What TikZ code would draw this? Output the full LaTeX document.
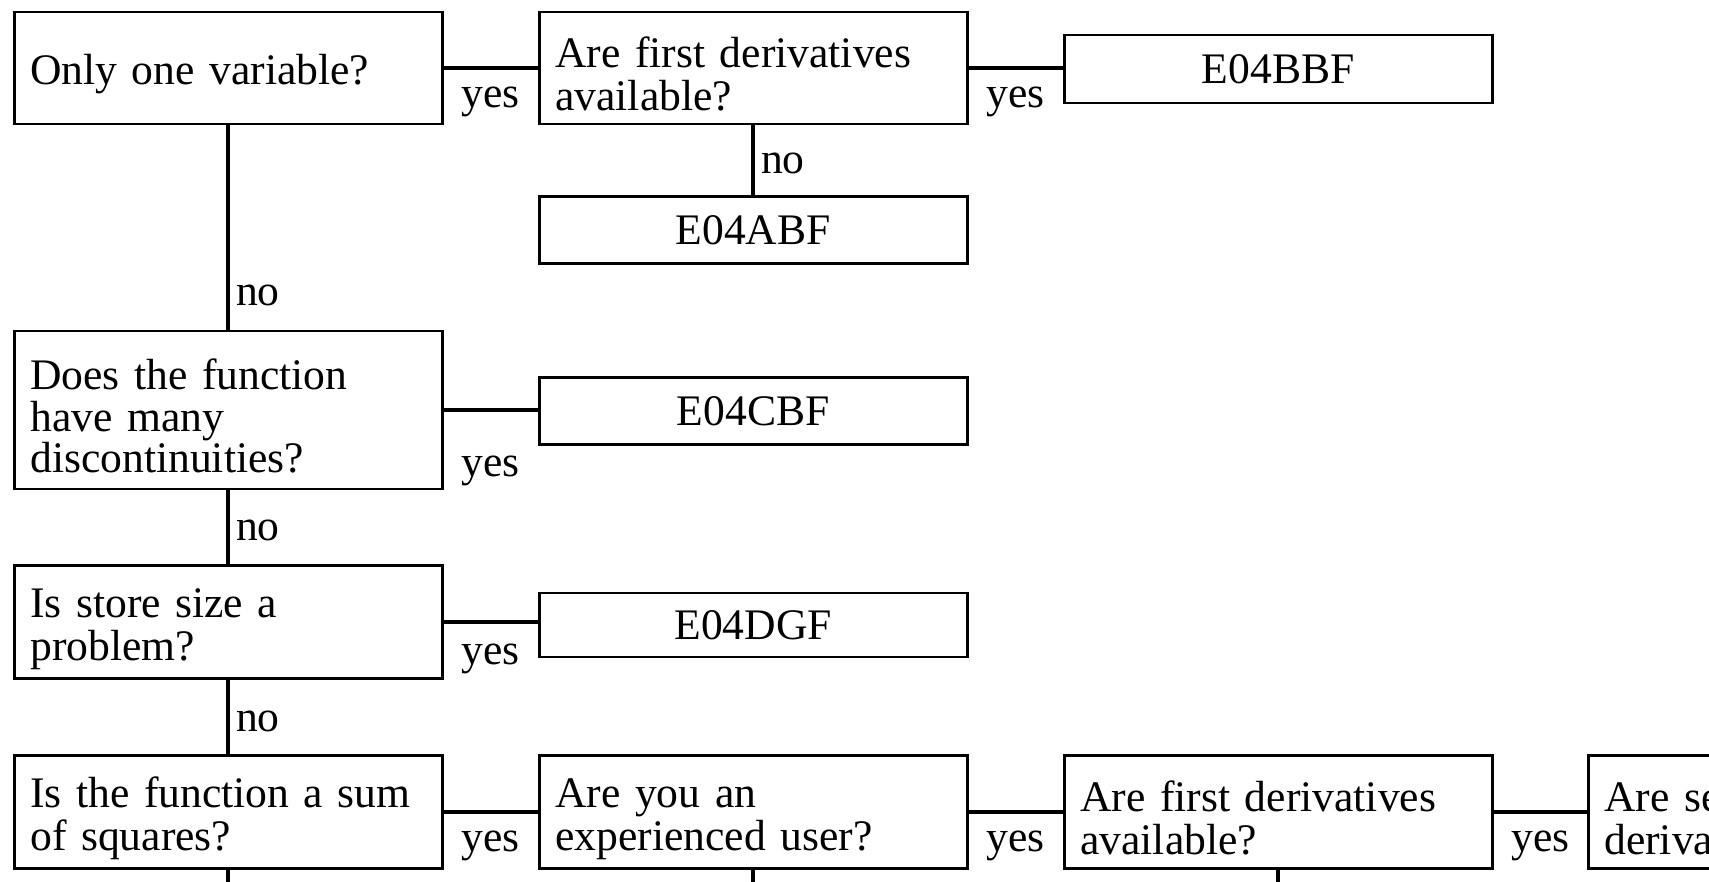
\documentclass[tikz,border=0pt]{standalone}
\usepackage{fontspec}
\setmainfont{Liberation Serif}
\usepackage{tikz}
\usetikzlibrary{positioning}
\newcommand{\chartfont}{\fontsize{21.8pt}{21.8pt}\selectfont}

\begin{document}
\begin{tikzpicture}[x=0.5pt,y=-0.5pt,
    askbox/.style={draw,line width=1.25pt,anchor=west,align=left,
                   text width=198pt,inner xsep=8pt,font=\chartfont,
                   execute at begin node={\rule{0pt}{21.5pt}}},
    codebox/.style={draw,line width=1.25pt,anchor=west,align=center,
                    text width=198pt,inner xsep=8pt,font=\chartfont},
    link/.style={line width=1.9pt},
    tag/.style={font=\chartfont,inner sep=3pt}]
    \useasboundingbox (0,0) rectangle (1709,882);
    \clip (0,0) rectangle (1709,882);

    \node[askbox,minimum height=56pt] (onevar) at (13,68) {Only one variable?};
    \node[askbox,minimum height=56pt] (firstder) at (538,68)
      {Are first derivatives\\available?};
    \node[codebox,minimum height=34pt] (bbf) at (1063,69) {E04BBF};
    \node[codebox,minimum height=33.5pt] (abf) at (538,230) {E04ABF};

    \node[askbox,minimum height=79pt,execute at begin node={},
          font=\fontsize{21.8pt}{20.6pt}\selectfont] (discont) at (13,410)
      {Does the function\\have many\\discontinuities?};
    \node[codebox,minimum height=33.5pt] (cbf) at (538,411) {E04CBF};

    \node[askbox,minimum height=56.5pt] (store) at (13,622)
      {Is store size a\\problem?};
    \node[codebox,minimum height=32pt] (dgf) at (538,625) {E04DGF};

    \node[askbox,minimum height=56.5pt] (sumsq) at (13,812)
      {Is the function a sum\\of squares?};
    \node[askbox,minimum height=56.5pt] (expert) at (538,812)
      {Are you an\\experienced user?};
    \node[askbox,minimum height=56.5pt] (firstdertwo) at (1063,812)
      {Are first derivatives\\available?};
    \node[askbox,minimum height=56.5pt] (secder) at (1587,812)
      {Are second\\derivatives available?};

    \draw[link] (onevar.east) -- node[tag,below=5.5pt] (yes1) {yes} (onevar.east -| firstder.west);
    \draw[link] (firstder.east) -- node[tag,below=5.5pt] (yes2) {yes} (firstder.east -| bbf.west);
    \draw[link] (firstder.south) -- node[tag,right,yshift=-1.5pt] (no1) {no} (abf.north);
    \draw[link] (onevar.south) -- node[tag,right,pos=0.83] (no2) {no} (discont.north);
    \draw[link] (discont.east) -- node[tag,below=19pt] (yes3) {yes} (discont.east -| cbf.west);
    \draw[link] (discont.south) -- node[tag,right,yshift=-1.5pt] (no3) {no} (store.north);
    \draw[link] (store.east) -- node[tag,below=7pt] (yes4) {yes} (store.east -| dgf.west);
    \draw[link] (store.south) -- node[tag,right,yshift=-2pt] (no4) {no} (sumsq.north);
    \draw[link] (sumsq.east) -- node[tag,below=5.5pt] (yes5) {yes} (expert.west);
    \draw[link] (expert.east) -- node[tag,below=5.5pt] (yes6) {yes} (firstdertwo.west);
    \draw[link] (firstdertwo.east) -- node[tag,below=5.5pt] (yes7) {yes} (secder.west);

    \path (sumsq.south) ++(0,40) coordinate (down1);
    \path (expert.south) ++(0,40) coordinate (down2);
    \path (firstdertwo.south) ++(0,40) coordinate (down3);
    \draw[link] (sumsq.south) -- (down1);
    \draw[link] (expert.south) -- (down2);
    \draw[link] (firstdertwo.south) -- (down3);
  \end{tikzpicture}
\end{document}
